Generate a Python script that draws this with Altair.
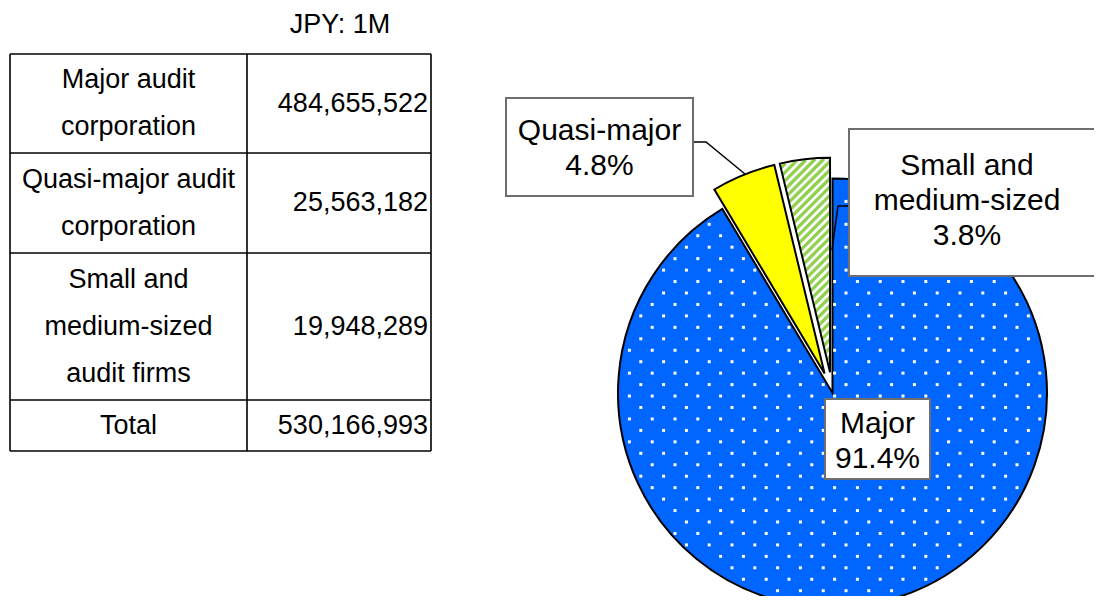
import math
import numpy as np
import pandas as pd
import altair as alt

# ---------------- data ----------------
row_labels = ["Major audit\ncorporation", "Quasi-major audit\ncorporation",
              "Small and\nmedium-sized\naudit firms", "Total"]
row_values = [484655522, 25563182, 19948289, 530166993]
unit_label = "JPY: 1M"

pie_names = ["Major", "Quasi-major", "Small and\nmedium-sized"]
pie_values = [484655522, 25563182, 19948289]
pie_explode = [0, 1, 1]

# ---------------- layout (page pixels) ----------------
OFF = 8
W, H = 1102 - 2 * OFF, 604 - 2 * OFF
TL, TC, TR = 10, 247, 431
row_edges = [54, 153, 253, 400, 451]
CX, CY, R, EXPL = 832.5, 393.0, 214.5, 21.0
FONT = "Liberation Sans"
T_LH, L_LH = 47, 35

def p(v):
    return v - OFF

# ---------- table ----------
hlines = pd.DataFrame({"x": [p(TL)] * len(row_edges), "x2": [p(TR)] * len(row_edges),
                       "y": [p(e) for e in row_edges], "y2": [p(e) for e in row_edges]})
vlines = pd.DataFrame({"x": [p(TL), p(TC), p(TR)], "x2": [p(TL), p(TC), p(TR)],
                       "y": [p(row_edges[0])] * 3, "y2": [p(row_edges[-1])] * 3})
lines_df = pd.concat([hlines, vlines], ignore_index=True)

table_lines = alt.Chart(lines_df).mark_rule(color="black", strokeWidth=1.6).encode(
    x=alt.X("x:Q", scale=None), x2="x2:Q",
    y=alt.Y("y:Q", scale=None), y2="y2:Q")

row_centers = [p((row_edges[i] + row_edges[i + 1]) / 2) for i in range(len(row_labels))]
n_lines = [lab.count("\n") + 1 for lab in row_labels]
tbl_df = pd.DataFrame({"label": row_labels, "value": row_values, "yc": row_centers,
                       "ytop": [c - (n - 1) * T_LH / 2 for c, n in zip(row_centers, n_lines)]})

tbl_labels = alt.Chart(tbl_df).mark_text(
    align="center", baseline="middle", lineBreak="\n", fontSize=27, lineHeight=T_LH,
    font=FONT, color="black").encode(
    x=alt.value(p((TL + TC) / 2)), y=alt.Y("ytop:Q", scale=None), text="label:N")

tbl_values = alt.Chart(tbl_df).mark_text(
    align="right", baseline="middle", fontSize=27, font=FONT, color="black").encode(
    x=alt.value(p(TR - 3)), y=alt.Y("yc:Q", scale=None),
    text=alt.Text("value:Q", format=","))

unit = alt.Chart(pd.DataFrame({"t": [unit_label]})).mark_text(
    align="center", baseline="middle", fontSize=27, font=FONT, color="black").encode(
    x=alt.value(p(340)), y=alt.value(p(25)), text="t:N")

# ---------- pie ----------
total = sum(pie_values)
pie_df = pd.DataFrame({"seg": pie_names, "value": pie_values,
                       "order": list(range(len(pie_names))), "explode": pie_explode})

base = alt.Chart(pie_df).transform_window(
    cum="sum(value)", sort=[alt.SortField("order")]
).transform_calculate(
    start="datum.cum - datum.value",
    mid=f"(datum.cum - datum.value / 2) / {total} * 2 * PI",
).transform_calculate(
    cx=f"{p(CX)} + datum.explode * {EXPL} * sin(datum.mid)",
    cy=f"{p(CY)} - datum.explode * {EXPL} * cos(datum.mid)",
)

enc = dict(
    theta=alt.Theta("start:Q", scale=alt.Scale(domain=[0, total], range=[0, 2 * math.pi])),
    theta2="cum:Q",
    x=alt.X("cx:Q", scale=None),
    y=alt.Y("cy:Q", scale=None),
)

arc_style = dict(radius=R, stroke="black", strokeWidth=2, strokeJoin="miter")

major_arc = base.transform_filter("datum.order == 0").mark_arc(
    fill="#0066FF", **arc_style).encode(**enc)
quasi_arc = base.transform_filter("datum.order == 1").mark_arc(
    fill="#FFFF00", **arc_style).encode(**enc)
small_fill = base.transform_filter("datum.order == 2").mark_arc(
    fill="white", radius=R, strokeWidth=0).encode(**enc)
small_outline = base.transform_filter("datum.order == 2").mark_arc(
    fill="transparent", **arc_style).encode(**enc)

# diagonal "/" stripe texture for the small slice, clipped to the wedge
cum0 = sum(pie_values[:2])
a0 = 2 * math.pi * cum0 / total
a1 = 2 * math.pi
am = (a0 + a1) / 2
scx = CX + EXPL * math.sin(am)
scy = CY - EXPL * math.cos(am)
Rin = R - 1.0
poly = [(scx, scy)] + [(scx + Rin * math.sin(a), scy - Rin * math.cos(a))
                       for a in np.linspace(a0, a1, 40)]
poly.append(poly[0])
sums = [x + y for x, y in poly]
PERIOD = 6.0
step = PERIOD * math.sqrt(2)
segs = []
c = min(sums) + step / 2
while c < max(sums):
    hits = []
    for (xa, ya), (xb, yb) in zip(poly[:-1], poly[1:]):
        fa, fb = xa + ya - c, xb + yb - c
        if (fa < 0) != (fb < 0):
            t = fa / (fa - fb)
            hits.append((xa + t * (xb - xa), ya + t * (yb - ya)))
    if len(hits) >= 2:
        hits.sort()
        (x1, y1), (x2, y2) = hits[0], hits[-1]
        segs.append((p(x1), p(y1), p(x2), p(y2)))
    c += step
stripe_df = pd.DataFrame(segs, columns=["x", "y", "x2", "y2"])
stripes = alt.Chart(stripe_df).mark_rule(color="#92D050", strokeWidth=3.3, strokeCap="butt").encode(
    x=alt.X("x:Q", scale=None), y=alt.Y("y:Q", scale=None), x2="x2:Q", y2="y2:Q")

# white dot texture for the major slice
end_major = 360.0 * pie_values[0] / total
pts = []
j = 0
yy = CY - R
while yy < CY + R:
    xx = CX - R + (j % 2) * 11.4
    while xx < CX + R:
        dx, dy = xx - CX, yy - CY
        ang = math.degrees(math.atan2(dx, -dy)) % 360
        if math.hypot(dx, dy) < R - 3 and 1.0 < ang < end_major - 1.0:
            pts.append((p(xx), p(yy)))
        xx += 22.8
    yy += 11.45
    j += 1
dots_df = pd.DataFrame(pts, columns=["x", "y"])
dots = alt.Chart(dots_df).mark_square(size=9, color="white", opacity=1, strokeWidth=0).encode(
    x=alt.X("x:Q", scale=None), y=alt.Y("y:Q", scale=None))

# ---------- callouts ----------
lead_df = pd.DataFrame({
    "g": ["q", "q", "q", "s", "s", "s"],
    "i": [0, 1, 2, 0, 1, 2],
    "x": [p(693), p(706), p(745), p(849), p(838), p(832)],
    "y": [p(142), p(142), p(174), p(206), p(206), p(250)],
})
leaders = alt.Chart(lead_df).mark_line(color="black", strokeWidth=1.5).encode(
    x=alt.X("x:Q", scale=None), y=alt.Y("y:Q", scale=None), detail="g:N", order="i:Q")

box_df = pd.DataFrame({
    "x": [p(506), p(849), p(825)], "x2": [p(693), p(1100), p(930)],
    "y": [p(98), p(129), p(399)], "y2": [p(196), p(276), p(479)],
})
boxes = alt.Chart(box_df).mark_rect(fill="white", stroke="#6E6E6E", strokeWidth=2).encode(
    x=alt.X("x:Q", scale=None), x2="x2:Q", y=alt.Y("y:Q", scale=None), y2="y2:Q")

lab_centers = [p(441), p(148), p(201)]
lab_nlines = [nm.count("\n") + 2 for nm in pie_names]
lab_df = pd.DataFrame({"seg": pie_names, "value": pie_values,
                       "lx": [p(877.5), p(599.5), p(967)],
                       "ly": [c - (n - 1) * L_LH / 2 for c, n in zip(lab_centers, lab_nlines)]})
labels = alt.Chart(lab_df).transform_calculate(
    txt=f"datum.seg + '\\n' + format(datum.value / {total} * 100, '.1f') + '%'"
).mark_text(align="center", baseline="middle", lineBreak="\n", fontSize=30, lineHeight=L_LH,
            font=FONT, color="black").encode(
    x=alt.X("lx:Q", scale=None), y=alt.Y("ly:Q", scale=None), text="txt:N")

chart = alt.layer(
    table_lines, tbl_labels, tbl_values, unit,
    major_arc, dots, quasi_arc, small_fill, stripes, small_outline,
    leaders, boxes, labels,
).properties(
    width=W, height=H, background="white", padding=0,
    autosize=alt.AutoSizeParams(type="none"),
).configure_view(stroke=None)

chart.save("out.html", embed_options={"renderer": "svg", "actions": False})
